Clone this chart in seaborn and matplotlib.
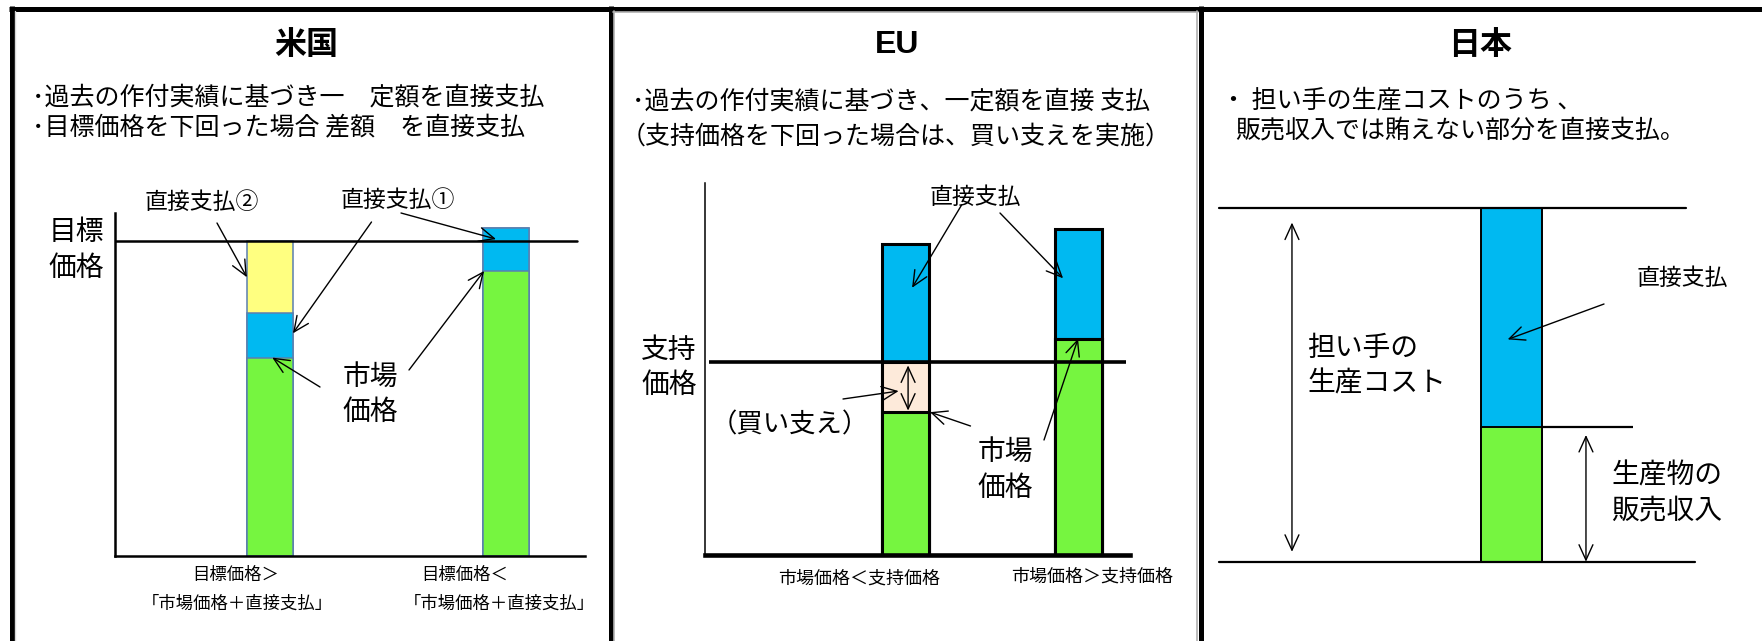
import numpy as np
import matplotlib
matplotlib.use("Agg")
import matplotlib.pyplot as plt
import matplotlib.transforms as mtransforms
from matplotlib.lines import Line2D
import seaborn as sns

# ---- data -------------------------------------------------------------
# United States: target price vs. market price + direct payments
us_cases = ["目標価格＞「市場価格＋直接支払」", "目標価格＜「市場価格＋直接支払」"]
us_market = [63, 90.5]      # market price
us_pay1 = [14, 13.5]        # direct payment ① (fixed)
us_pay2 = [23, 0]           # direct payment ② (shortfall to target)
us_target = 100

# EU: support price with intervention buying
eu_cases = ["市場価格＜支持価格", "市場価格＞支持価格"]
eu_market = [74, 112]
eu_intervention = [26, 0]   # buying-in up to the support price
eu_pay = [61, 57]           # direct payment
eu_support = 100

# Japan: production cost of core farmers
jp_cases = ["日本"]
jp_revenue = [38]           # sales revenue
jp_pay = [62]               # direct payment
jp_cost = 100

# ---- style ------------------------------------------------------------
sns.set_theme(style="white")
JP = ["Noto Sans CJK JP", "DejaVu Sans"]
plt.rcParams["font.family"] = JP

YELLOW = "#FFFF80"
BLUE = "#00B9F1"
GREEN = "#76F540"
PEACH = "#FDEADA"
OUTLINE_US = "#5B7FAF"

W, H = 1762, 641
fig = plt.figure(figsize=(W / 100, H / 100), dpi=100)
fig.patch.set_facecolor("white")

# top-left pixel coordinates on the figure
PX = mtransforms.Affine2D().scale(1 / W, -1 / H).translate(0, 1) + fig.transFigure


def px_axes(x0, y0, x1, y1):
    return fig.add_axes([x0 / W, 1 - y1 / H, (x1 - x0) / W, (y1 - y0) / H])


def stacked(ax, cats, layers, colors, width, edgecolor, lw):
    cum = np.cumsum(np.array(layers, dtype=float), axis=0)
    for i in reversed(range(len(layers))):
        sns.barplot(x=cats, y=cum[i], color=colors[i], width=width,
                    saturation=1, edgecolor=edgecolor, linewidth=lw,
                    errorbar=None, ax=ax, zorder=2)
    ax.set(xlabel="", ylabel="", xticks=[], yticks=[])
    ax.set_facecolor("none")


def label(x, y, s, size, ha="center", **kw):
    fig.text(x, y, s, transform=PX, ha=ha, va="center", fontsize=size,
             color="black", **kw)


ARROW = dict(arrowstyle="->,head_length=0.55,head_width=0.25", lw=1.0,
             color="black", shrinkA=0, shrinkB=0, mutation_scale=20)
DARROW = dict(arrowstyle="<->,head_length=0.55,head_width=0.25", lw=1.0,
              color="black", shrinkA=0, shrinkB=0, mutation_scale=20)


def arrow(ax, xy, tail_px):
    ax.annotate("", xy=xy, xycoords="data", xytext=tail_px, textcoords=PX,
                arrowprops=ARROW, annotation_clip=False)


# ---- frame ------------------------------------------------------------
frame = dict(color="black", lw=3.6, solid_capstyle="butt", transform=PX)
fig.add_artist(Line2D([9, W], [8.5, 8.5], **frame))
for xv in (11.5, 610.5, 1200.5):
    fig.add_artist(Line2D([xv, xv], [6, H + 5], **frame))
shade = dict(color="#b0b0b0", lw=1.2, transform=PX)
fig.add_artist(Line2D([614.2, 614.2], [11, H], **shade))
fig.add_artist(Line2D([1197.3, 1197.3], [11, H], **shade))
fig.add_artist(Line2D([613, 1198], [11.6, 11.6], **shade))
fig.add_artist(Line2D([14.8, 14.8], [11, H], color="#d8d8d8", lw=1.0, transform=PX))

# ---- United States ------------------------------------------------------
ax1 = px_axes(114.6, 213, 585, 556)
w1 = 0.195
stacked(ax1, us_cases, [us_market, us_pay1, us_pay2], [GREEN, BLUE, YELLOW],
        w1, OUTLINE_US, 1.1)
ax1.set_xlim(-0.658, 1.335)
ax1.set_ylim(0, 108.9)
sns.despine(ax=ax1)
for s in ("left", "bottom"):
    ax1.spines[s].set_color("black")
    ax1.spines[s].set_linewidth(1.8)
ax1.axhline(us_target, xmin=0, xmax=0.983, color="black", lw=1.8, zorder=3)

label(306, 45, "米国", 23, weight="bold")
label(32, 98, "･過去の作付実績に基づき一　定額を直接支払", 18, ha="left")
label(32, 128, "･目標価格を下回った場合 差額　を直接支払", 18, ha="left")
label(201.6, 202, "直接支払②", 16.5)
label(398, 200, "直接支払①", 16.5)
label(76, 232, "目標", 20)
label(76, 268, "価格", 20)
label(370, 377, "市場", 20)
label(370, 412, "価格", 20)
label(236, 575, "目標価格＞", 12.5)
label(237, 604, "「市場価格＋直接支払」", 12.5)
label(465, 575, "目標価格＜", 12.5)
label(499, 604, "「市場価格＋直接支払」", 12.5)

# arrows: category 0 is the left bar, category 1 the right bar
arrow(ax1, (0 - w1 / 2, us_market[0] + us_pay1[0] + us_pay2[0] * 0.5), (217, 223))
arrow(ax1, (0 + w1 / 2, us_market[0] + us_pay1[0] * 0.55), (371.5, 222))
arrow(ax1, (1 - 0.042, us_market[1] + us_pay1[1] * 0.75), (401, 213))
arrow(ax1, (0 + 0.01, us_market[0]), (320, 387))
arrow(ax1, (1 - w1 / 2 + 0.005, us_market[1]), (409, 370))

# ---- EU -----------------------------------------------------------------
ax2 = px_axes(705, 183, 1130, 555)
w2 = 0.272
stacked(ax2, eu_cases, [eu_market, eu_intervention, eu_pay],
        [GREEN, PEACH, BLUE], w2, "black", 2.2)
ax2.set_xlim(-1.162, 1.301)
ax2.set_ylim(0, 192.7)
sns.despine(ax=ax2)
ax2.spines["left"].set_color("black")
ax2.spines["left"].set_linewidth(1.1)
ax2.spines["bottom"].set_color("black")
ax2.spines["bottom"].set_linewidth(3.3)
ax2.hlines(eu_support, -1.139, 1.278, color="black", lw=2.6, zorder=4)

label(896.6, 45, "EU", 23, weight="bold", family=["Liberation Sans", "DejaVu Sans"])
label(632.5, 102, "･過去の作付実績に基づき、一定額を直接 支払", 18, ha="left")
label(621, 137, "（支持価格を下回った場合は、買い支えを実施）", 18, ha="left")
label(975, 197, "直接支払", 16.5)
label(669, 350, "支持", 20)
label(669, 385, "価格", 20)
label(789.4, 425, "（買い支え）", 19)
label(1005.7, 452, "市場", 20)
label(1005.7, 488, "価格", 20)
label(859, 579, "市場価格＜支持価格", 13)
label(1092, 577, "市場価格＞支持価格", 13)

arrow(ax2, (0 + 0.038, eu_support + eu_pay[0] * 0.63), (961.6, 205))
arrow(ax2, (1 - 0.087, eu_market[1] + eu_pay[1] * 0.55), (1000, 213))
arrow(ax2, (0 - 0.04, eu_market[0] + eu_intervention[0] * 0.42), (843, 399))
arrow(ax2, (0 + w2 / 2 + 0.006, eu_market[0]), (970.5, 426))
arrow(ax2, (1 + 0.0, eu_market[1]), (1044, 440))
ax2.annotate("", xy=(0.015, eu_support - 1.8), xytext=(0.015, eu_market[0] + 0.8),
             arrowprops=DARROW, zorder=5)

# ---- Japan --------------------------------------------------------------
ax3 = px_axes(1219, 190, 1695, 561.7)
w3 = 0.8
stacked(ax3, jp_cases, [jp_revenue, jp_pay], [GREEN, BLUE], w3, "black", 1.4)
ax3.set_xlim(-3.836, 2.407)
ax3.set_ylim(0, 105)
sns.despine(ax=ax3, left=True, bottom=True)
ax3.axhline(jp_cost, xmin=0, xmax=0.981, color="black", lw=1.6, clip_on=False, zorder=3)
ax3.axhline(0, xmin=0, xmax=1, color="black", lw=1.6, clip_on=False, zorder=3)
ax3.hlines(jp_revenue[0], w3 / 2, 1.593, color="black", lw=1.6, zorder=3)
ax3.annotate("", xy=(-2.879, jp_cost * 0.958), xytext=(-2.879, jp_cost * 0.028),
             arrowprops=DARROW)
ax3.annotate("", xy=(0.977, jp_revenue[0] - 2.2), xytext=(0.977, 0),
             arrowprops=DARROW, annotation_clip=False)

label(1480, 45, "日本", 23, weight="bold")
label(1221, 100, "・ 担い手の生産コストのうち 、", 18, ha="left")
label(1235.6, 130, "販売収入では賄えない部分を直接支払。", 18, ha="left")
label(1307.5, 348, "担い手の", 20, ha="left")
label(1307.5, 383, "生産コスト", 20, ha="left")
label(1681.8, 278, "直接支払", 16.5)
label(1611.5, 475, "生産物の", 20, ha="left")
label(1611.5, 510, "販売収入", 20, ha="left")

arrow(ax3, (-0.05, jp_revenue[0] + jp_pay[0] * 0.4), (1604, 304))

fig.savefig("out.png", dpi=100, facecolor="white")
